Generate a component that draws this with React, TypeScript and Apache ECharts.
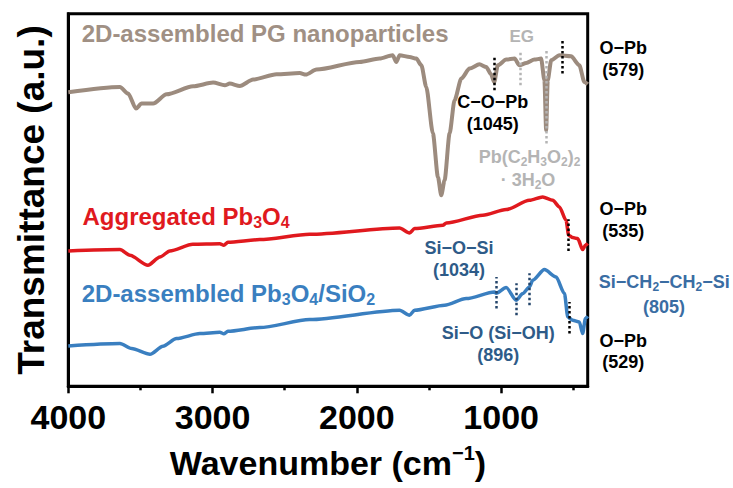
import React, { useEffect, useRef } from "react";
import * as echarts from "echarts";

const FONT = '"Liberation Sans", Arial, Helvetica, sans-serif';

// Axis ticks (cm^-1)
const xTicks = [4000, 3000, 2000, 1000];
const xMinorTicks = [3500, 2500, 1500, 500];

// 2D-assembled PG nanoparticles
const pgWn = [4000, 3642, 3585, 3531, 3492, 3412, 3319, 3135, 2996, 2915, 2881, 2811, 2719, 2557, 2396, 2354, 2280, 1981, 1842, 1752, 1726, 1704, 1634, 1588, 1553, 1519, 1473, 1438, 1415, 1392, 1357, 1323, 1276, 1219, 1150, 1103, 1070, 1048, 1023, 965, 907, 873, 826, 769, 723, 700, 688, 677, 653, 596, 515, 458, 423, 400];
const pgT = [294, 299.3, 292.7, 277.7, 282.7, 282.7, 292, 300, 303.7, 301, 302.7, 300.3, 306.7, 312, 313.3, 311.7, 316.7, 324.3, 327.7, 331, 324.3, 331, 329.3, 327.7, 321, 299.3, 253, 209.3, 191, 206, 253, 286, 307.7, 317.7, 322, 319.3, 312, 304, 321, 326.7, 327.7, 321, 323.3, 326.7, 327.7, 306, 256, 306, 326, 331, 330, 321, 304.3, 302];

// Aggregated Pb3O4
const pbWn = [4000, 3642, 3573, 3448, 3365, 3296, 3137, 2950, 2922, 2894, 2673, 2327, 1704, 1635, 1600, 1404, 1380, 1127, 965, 804, 712, 642, 596, 550, 532, 504, 469, 435, 416, 400];
const pbT = [135.3, 136.7, 131, 121, 129.3, 135.3, 142, 142.5, 141, 144, 146.7, 152, 158.3, 153.3, 157.7, 161, 163.3, 171, 176.7, 186, 189.3, 186, 179.3, 166, 151, 148.7, 147.7, 136.7, 141, 143];

// 2D-assembled Pb3O4/SiO2
const siWn = [4000, 3642, 3561, 3434, 3344, 3250, 3088, 2950, 2922, 2894, 2673, 2327, 1704, 1635, 1600, 1392, 1242, 1046, 1034, 965, 896, 850, 804, 781, 700, 619, 561, 538, 504, 458, 435, 416, 400];
const siT = [40.3, 42.7, 37.7, 32, 40, 47.7, 52.7, 54, 52.5, 55, 58.7, 66.7, 76, 71, 76, 81, 87.7, 94.3, 93, 98.7, 86, 92.7, 99.3, 106, 116.7, 109.3, 92.7, 69.3, 66, 64.3, 52.7, 67.7, 70];

// Peak marker lines: wavenumber, lower and upper transmittance
const pgMarkWn = [1045, 865, 688, 579];
const pgMarkLo = [296, 301, 242.7, 312.7];
const pgMarkHi = [329, 334.3, 337.7, 345.3];
const pbMarkWn = [535];
const pbMarkLo = [135.3];
const pbMarkHi = [167];
const siMarkWn = [1034, 896, 805, 529];
const siMarkLo = [77.7, 71, 81, 52.7];
const siMarkHi = [109.3, 103, 113, 84.3];

const C_PG_LINE = "#9c8b7e";
const C_PG_TEXT = "#a09084";
const C_RED = "#e0191e";
const C_BLUE = "#3a7fc0";
const C_DBLUE = "#2e5b88";
const C_MBLUE = "#3a6da3";
const C_LGRAY = "#b4b4b4";
const C_MARK_BLUE = "#24456b";

function zip(xs: number[], ys: number[]) {
  return xs.map((x, i) => [x, ys[i]]);
}

function marks(wn: number[], lo: number[], hi: number[], colors: string[]) {
  return wn.map((w, i) => [
    { coord: [w, lo[i]], lineStyle: { color: colors[i], type: "dotted", width: 2.5 } },
    { coord: [w, hi[i]] },
  ]);
}

function richStyles(fill: string, size: number) {
  return {
    n: { fontSize: size, fontWeight: "bold", fontFamily: FONT, fill, lineHeight: size + 4 },
    s: { fontSize: Math.round(size * 0.65), fontWeight: "bold", fontFamily: FONT, fill, lineHeight: Math.round(size * 0.65), verticalAlign: "bottom" },
  };
}

function label(x: number, y: number, text: string, fill: string, size = 18, align = "center", rich = false) {
  const style: any = {
    text,
    fill,
    fontSize: size,
    fontWeight: "bold",
    fontFamily: FONT,
    align,
    verticalAlign: "middle",
  };
  if (rich) style.rich = richStyles(fill, size);
  return { type: "text", x, y, silent: true, z: 100, style };
}

function lineSeries(name: string, data: number[][], color: string, width: number, markData: any[]) {
  return {
    name,
    type: "line",
    data,
    showSymbol: false,
    smooth: 0.25,
    smoothMonotone: "x",
    lineStyle: { color, width },
    itemStyle: { color },
    xAxisIndex: 0,
    yAxisIndex: 0,
    markLine: {
      silent: true,
      symbol: ["none", "none"],
      label: { show: false },
      data: markData,
    },
  };
}

export default function App() {
  const ref = useRef<HTMLDivElement>(null);
  useEffect(() => {
    if (!ref.current) return;
    const chart = echarts.init(ref.current, undefined, { renderer: "svg" });
    const option: any = {
      animation: false,
      grid: {
        left: 68.3,
        right: 145.3,
        top: 13.8,
        bottom: 101.7,
        show: true,
        borderColor: "#000",
        borderWidth: 3,
      },
      xAxis: [
        {
          type: "value",
          min: 400,
          max: 4000,
          inverse: true,
          position: "bottom",
          axisLine: { show: true, lineStyle: { color: "#000", width: 3 } },
          axisTick: { show: true, inside: false, length: 7, lineStyle: { color: "#000", width: 2.5 }, customValues: xTicks },
          axisLabel: {
            show: true,
            customValues: xTicks,
            margin: 14,
            fontSize: 34,
            fontWeight: "bold",
            color: "#000",
            fontFamily: FONT,
            formatter: (v: number) => String(v),
          },
          splitLine: { show: false },
          name: "{a|Wavenumber (cm}{s|−1}{a|)}",
          nameLocation: "middle",
          nameGap: 57,
          nameTextStyle: {
            rich: {
              a: { fontSize: 34, fontWeight: "bold", color: "#000", fontFamily: FONT, lineHeight: 40 },
              s: { fontSize: 20, fontWeight: "bold", color: "#000", fontFamily: FONT, lineHeight: 22, verticalAlign: "top" },
            },
          },
        },
        {
          type: "value",
          min: 400,
          max: 4000,
          inverse: true,
          position: "bottom",
          axisLine: { show: false },
          axisTick: { show: true, inside: false, length: 4, lineStyle: { color: "#000", width: 2.5 }, customValues: xMinorTicks },
          axisLabel: { show: false },
          splitLine: { show: false },
        },
      ],
      yAxis: {
        type: "value",
        min: 0,
        max: 372.5,
        axisLine: { show: true, lineStyle: { color: "#000", width: 3 } },
        axisTick: { show: false },
        axisLabel: { show: false },
        splitLine: { show: false },
        name: "Transmittance (a.u.)",
        nameLocation: "middle",
        nameGap: 18,
        nameTextStyle: { fontSize: 37, fontWeight: "bold", color: "#000", fontFamily: FONT },
      },
      series: [
        lineSeries("2D-assembled PG nanoparticles", zip(pgWn, pgT), C_PG_LINE, 4, marks(pgMarkWn, pgMarkLo, pgMarkHi, ["#000", C_LGRAY, C_LGRAY, "#000"])),
        lineSeries("Aggregated Pb3O4", zip(pbWn, pbT), C_RED, 3.5, marks(pbMarkWn, pbMarkLo, pbMarkHi, ["#000"])),
        lineSeries("2D-assembled Pb3O4/SiO2", zip(siWn, siT), C_BLUE, 3.5, marks(siMarkWn, siMarkLo, siMarkHi, [C_MARK_BLUE, C_MARK_BLUE, C_MARK_BLUE, "#000"])),
      ],
      graphic: [
        label(81.7, 33, "2D-assembled PG nanoparticles", C_PG_TEXT, 24, "left"),
        label(82.5, 216, "{n|Aggregated Pb}{s|3}{n|O}{s|4}", C_RED, 24, "left", true),
        label(81.7, 293, "{n|2D-assembled Pb}{s|3}{n|O}{s|4}{n|/SiO}{s|2}", C_BLUE, 24, "left", true),
        label(521.7, 36.7, "EG", C_LGRAY, 17),
        label(492.8, 101.7, "C−O−Pb", "#000", 18),
        label(492.7, 124, "(1045)", "#000", 18),
        label(529.5, 156.7, "{n|Pb(C}{s|2}{n|H}{s|3}{n|O}{s|2}{n|)}{s|2}", C_LGRAY, 18, "center", true),
        label(528, 180, "{n|· 3H}{s|2}{n|O}", C_LGRAY, 18, "center", true),
        label(623.3, 48, "O−Pb", "#000", 18),
        label(623.3, 70, "(579)", "#000", 18),
        label(623.3, 209.2, "O−Pb", "#000", 18),
        label(623.3, 230.8, "(535)", "#000", 18),
        label(459, 248.3, "Si−O−Si", C_DBLUE, 18),
        label(459, 270, "(1034)", C_DBLUE, 18),
        label(664.3, 282, "{n|Si−CH}{s|2}{n|−CH}{s|2}{n|−Si}", C_MBLUE, 18, "center", true),
        label(664, 306.7, "(805)", C_MBLUE, 18),
        label(498.3, 333.3, "Si−O (Si−OH)", C_DBLUE, 18),
        label(498.3, 355, "(896)", C_DBLUE, 18),
        label(623.3, 341, "O−Pb", "#000", 18),
        label(623.3, 361.7, "(529)", "#000", 18),
      ],
    };
    chart.setOption(option);
    return () => chart.dispose();
  }, []);
  return (
    <div
      ref={ref}
      style={{ position: "fixed", left: 0, top: 0, width: 733, height: 488, background: "#fff" }}
    />
  );
}
